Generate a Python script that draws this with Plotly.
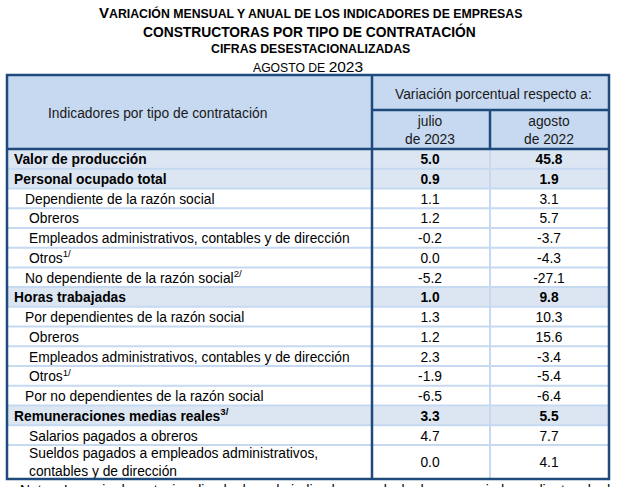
import plotly.graph_objects as go

# ---------------- data ----------------
title_lines = [
    "VARIACIÓN MENSUAL Y ANUAL DE LOS INDICADORES DE EMPRESAS",
    "CONSTRUCTORAS POR TIPO DE CONTRATACIÓN",
    "CIFRAS DESESTACIONALIZADAS",
    "AGOSTO DE 2023",
]
header_left = "Indicadores por tipo de contratación"
header_top = "Variación porcentual respecto a:"
col_headers = ["julio<br>de 2023", "agosto<br>de 2022"]

labels = [
    "Valor de producción",
    "Personal ocupado total",
    "Dependiente de la razón social",
    "Obreros",
    "Empleados administrativos, contables y de dirección",
    "Otros<sup>1/</sup>",
    "No dependiente de la razón social<sup>2/</sup>",
    "Horas trabajadas",
    "Por dependientes de la razón social",
    "Obreros",
    "Empleados administrativos, contables y de dirección",
    "Otros<sup>1/</sup>",
    "Por no dependientes de la razón social",
    "Remuneraciones medias reales<sup>3/</sup>",
    "Salarios pagados a obreros",
    "Sueldos pagados a empleados administrativos,<br>contables y de dirección",
]
levels = [0, 0, 1, 2, 2, 2, 1, 0, 1, 2, 2, 2, 1, 0, 2, 2]
julio_2023 = [5.0, 0.9, 1.1, 1.2, -0.2, 0.0, -5.2, 1.0, 1.3, 1.2, 2.3, -1.9, -6.5, 3.3, 4.7, 0.0]
agosto_2022 = [45.8, 1.9, 3.1, 5.7, -3.7, -4.3, -27.1, 9.8, 10.3, 15.6, -3.4, -5.4, -6.4, 5.5, 7.7, 4.1]
nota_label = "Nota:"
nota = "La serie desestacionalizada de cada indicador se calcula de manera independiente a la de sus"

# ---------------- layout constants ----------------
W, H = 623, 487
X0, X1 = 7, 609          # table left/right
XC1, XC2 = 372, 490      # column dividers
Y0, YH1, YH2, YB = 75, 110, 149, 479
ROW_H = 19.73
TEXT_DY = 2.0
DARK = "#1F4A7C"
LIGHT = "#C5D9F1"
HEAD_FILL = "#C6D9F1"
BOLD_FILL = "#DCE6F2"
FONT = "Liberation Sans, Arial, sans-serif"
FS = 13.8
indent_x = {0: 14, 1: 25, 2: 29}

n = len(labels)
tops = [YH2 + i * ROW_H for i in range(n)]
bottoms = tops[1:] + [YB]
centers = [(t + b) / 2 + TEXT_DY for t, b in zip(tops, bottoms)]
is_bold = [lv == 0 for lv in levels]

shapes = []
shapes.append(dict(type="rect", x0=X0, x1=X1, y0=Y0, y1=YH2, fillcolor=HEAD_FILL, line_width=0, layer="below"))
for i in range(n):
    if is_bold[i]:
        shapes.append(dict(type="rect", x0=X0, x1=X1, y0=tops[i], y1=bottoms[i],
                           fillcolor=BOLD_FILL, line_width=0, layer="below"))
for i in range(1, n):
    shapes.append(dict(type="line", x0=X0, x1=X1, y0=tops[i], y1=tops[i],
                       line=dict(color=LIGHT, width=2)))
shapes.append(dict(type="line", x0=XC2, x1=XC2, y0=YH2, y1=YB, line=dict(color=LIGHT, width=2)))
shapes.append(dict(type="line", x0=XC2, x1=XC2, y0=YH1, y1=YH2, line=dict(color=DARK, width=2.5)))
shapes.append(dict(type="line", x0=XC1, x1=X1, y0=YH1, y1=YH1, line=dict(color=DARK, width=2.5)))
shapes.append(dict(type="line", x0=X0, x1=X1, y0=YH2, y1=YH2, line=dict(color=DARK, width=2.5)))
shapes.append(dict(type="line", x0=XC1, x1=XC1, y0=Y0, y1=YB, line=dict(color=DARK, width=2.5)))
shapes.append(dict(type="rect", x0=X0, x1=X1, y0=Y0, y1=YB, line=dict(color=DARK, width=2.5)))

fig = go.Figure()

lab_text = [f"<b>{l}</b>" if b else l for l, b in zip(labels, is_bold)]
fig.add_trace(go.Scatter(
    x=[indent_x[lv] for lv in levels], y=centers, text=lab_text, mode="text",
    textposition="middle right", textfont=dict(family=FONT, size=FS, color="#000000"),
    hoverinfo="skip", showlegend=False))

col1_c = 430
col2_c = 549
for xc, vals in [(col1_c, julio_2023), (col2_c, agosto_2022)]:
    txt = [f"<b>{v:.1f}</b>" if b else f"{v:.1f}" for v, b in zip(vals, is_bold)]
    fig.add_trace(go.Scatter(
        x=[xc] * n, y=centers, text=txt, mode="text", textposition="middle center",
        textfont=dict(family=FONT, size=FS, color="#000000"),
        hoverinfo="skip", showlegend=False))

ann = []
def A(text, x, y, size, family=FONT, xanchor="center", color="#000000", align="center", yshift=0):
    ann.append(dict(text=text, x=x, y=y, xref="x", yref="y", showarrow=False,
                    xanchor=xanchor, yanchor="middle", align=align, yshift=yshift,
                    font=dict(family=family, size=size, color=color)))

t1 = title_lines[0]
A("<b><span style='font-size:15px'>V</span>" + t1[1:] + "</b>", 310, 12.5, 12.3)
A("<b>" + title_lines[1] + "</b>", 309, 31, 13.8)
A("<b>" + title_lines[2] + "</b>", 310, 49, 12.3)
p = title_lines[3].split(" ")
A(f"{p[0]} {p[1]} <span style='font-size:15.5px'>{p[2]}</span>", 308, 66.5, 12.2)

hc = "#1a1a1a"
A(header_left, 157, (Y0 + YH2) / 2 + 1, FS, color=hc)
A(header_top, (XC1 + X1) / 2 + 3, (Y0 + YH1) / 2 + 2, FS, color=hc)
A(col_headers[0], col1_c, (YH1 + YH2) / 2 + 0.5, FS, color=hc)
A(col_headers[1], col2_c, (YH1 + YH2) / 2 + 0.5, FS, color=hc)
A(nota_label, 18, 486.5, FS, xanchor="left", yshift=-3.5)
A(nota, 62, 486.5, FS, xanchor="left", yshift=-3.5)

fig.update_layout(
    width=W, height=H, margin=dict(l=0, r=0, t=0, b=0),
    paper_bgcolor="white", plot_bgcolor="white",
    xaxis=dict(range=[0, W], visible=False, fixedrange=True),
    yaxis=dict(range=[H, 0], visible=False, fixedrange=True),
    shapes=shapes, annotations=ann, showlegend=False,
)
fig.write_html("out.html", config={"displayModeBar": False},
               post_script="document.body.style.margin='0';document.body.style.padding='0';")
